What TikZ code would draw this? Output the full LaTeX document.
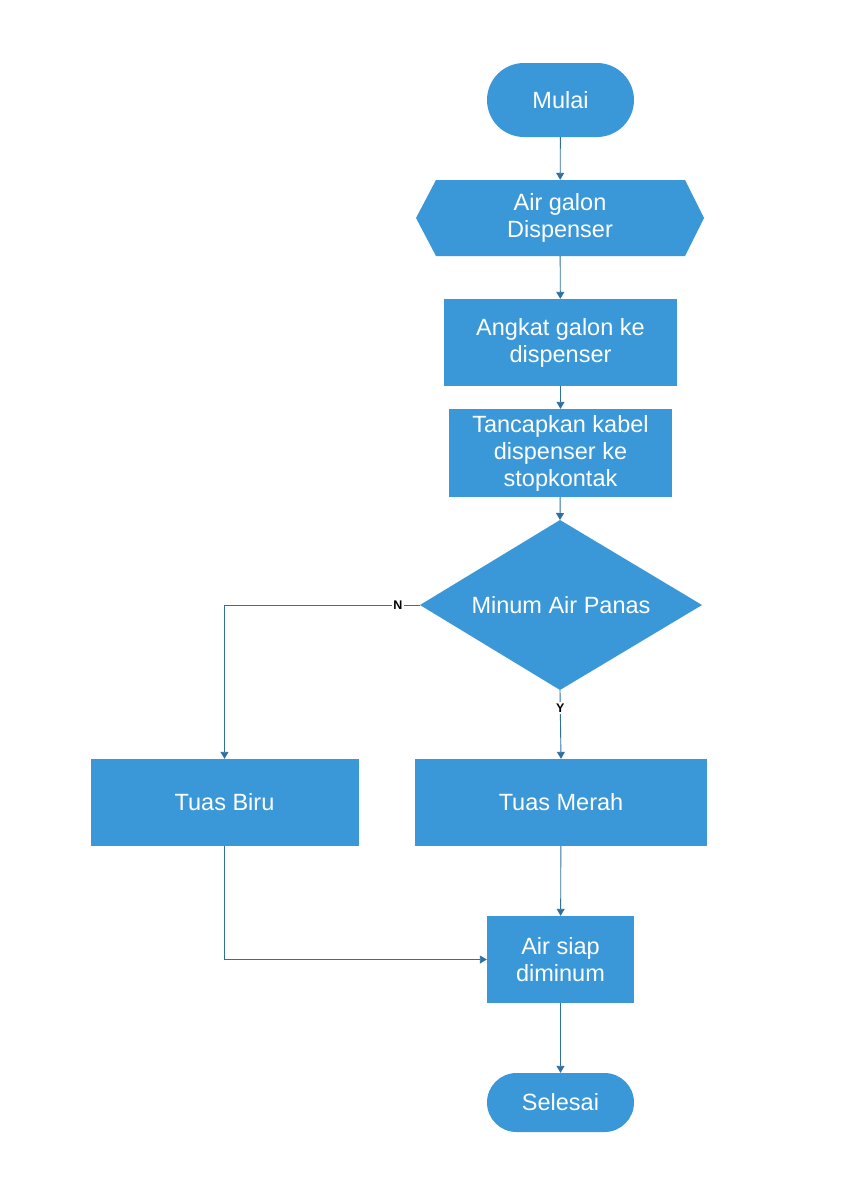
\documentclass[tikz,border=0pt]{standalone}
\usepackage{fontspec}
\setmainfont{Liberation Sans}
\usetikzlibrary{shapes.geometric,arrows.meta}
\definecolor{boxfill}{HTML}{3A98D8}
\definecolor{linecol}{HTML}{30709F}
\tikzset{
  base/.style={fill=boxfill, text=white, align=center, inner sep=0pt,
    font=\fontsize{23.5}{27}\selectfont},
  procbox/.style={base, rectangle},
  termbox/.style={base, rectangle},
  conn/.style={draw=linecol, line width=0.9pt, -{Triangle[width=8pt,length=7pt]}},
  lbl/.style={fill=white, inner sep=1.5pt, text=black, font=\bfseries\fontsize{12.5}{14}\selectfont}
}
\begin{document}
\begin{tikzpicture}[x=1pt,y=-1pt]
\useasboundingbox (0,0) rectangle (841,1189);
% terminal Mulai
\node[termbox, minimum width=147pt, minimum height=74pt, rounded corners=37pt] (mulai) at (560.5,100) {Mulai};
% hexagon
\fill[boxfill] (436,180) -- (685,180) -- (704,218) -- (685,256) -- (436,256) -- (416,218) -- cycle;
\node[base, fill=none, minimum width=288pt, minimum height=76pt] (hex) at (560,218) {Air galon\\Dispenser};
\node[procbox, minimum width=233pt, minimum height=87pt] (angkat) at (560.5,342.5) {Angkat galon ke\\dispenser};
\node[procbox, minimum width=223pt, minimum height=88pt] (tancap) at (560.5,453) {Tancapkan kabel\\dispenser ke\\stopkontak};
% decision diamond
\fill[boxfill] (560,520) -- (702,605) -- (560,690) -- (420,605) -- cycle;
\node[base, fill=none, minimum width=282pt, minimum height=170pt] (dec) at (561,605) {Minum Air Panas};
\node[procbox, minimum width=268pt, minimum height=87pt] (biru) at (224.5,802.5) {Tuas Biru};
\node[procbox, minimum width=292pt, minimum height=87pt] (merah) at (561,802.5) {Tuas Merah};
\node[procbox, minimum width=147pt, minimum height=87pt] (siap) at (560.5,959.5) {Air siap\\diminum};
\node[termbox, minimum width=147pt, minimum height=59pt, rounded corners=29.5pt] (selesai) at (560.5,1102.5) {Selesai};
% connectors
\draw[conn] (mulai) -- (hex);
\draw[conn] (hex) -- (angkat);
\draw[conn] (angkat) -- (tancap);
\draw[conn] (tancap) -- (560,520);
\draw[conn] (dec.west) -| node[lbl, pos=0.056] {N} (biru.north);
\draw[conn] (560,690) -- node[lbl, pos=0.26] {Y} (merah.north);
\draw[conn] (merah) -- (siap);
\draw[conn] (biru.south) |- (siap.west);
\draw[conn] (siap) -- (selesai);
\end{tikzpicture}
\end{document}
